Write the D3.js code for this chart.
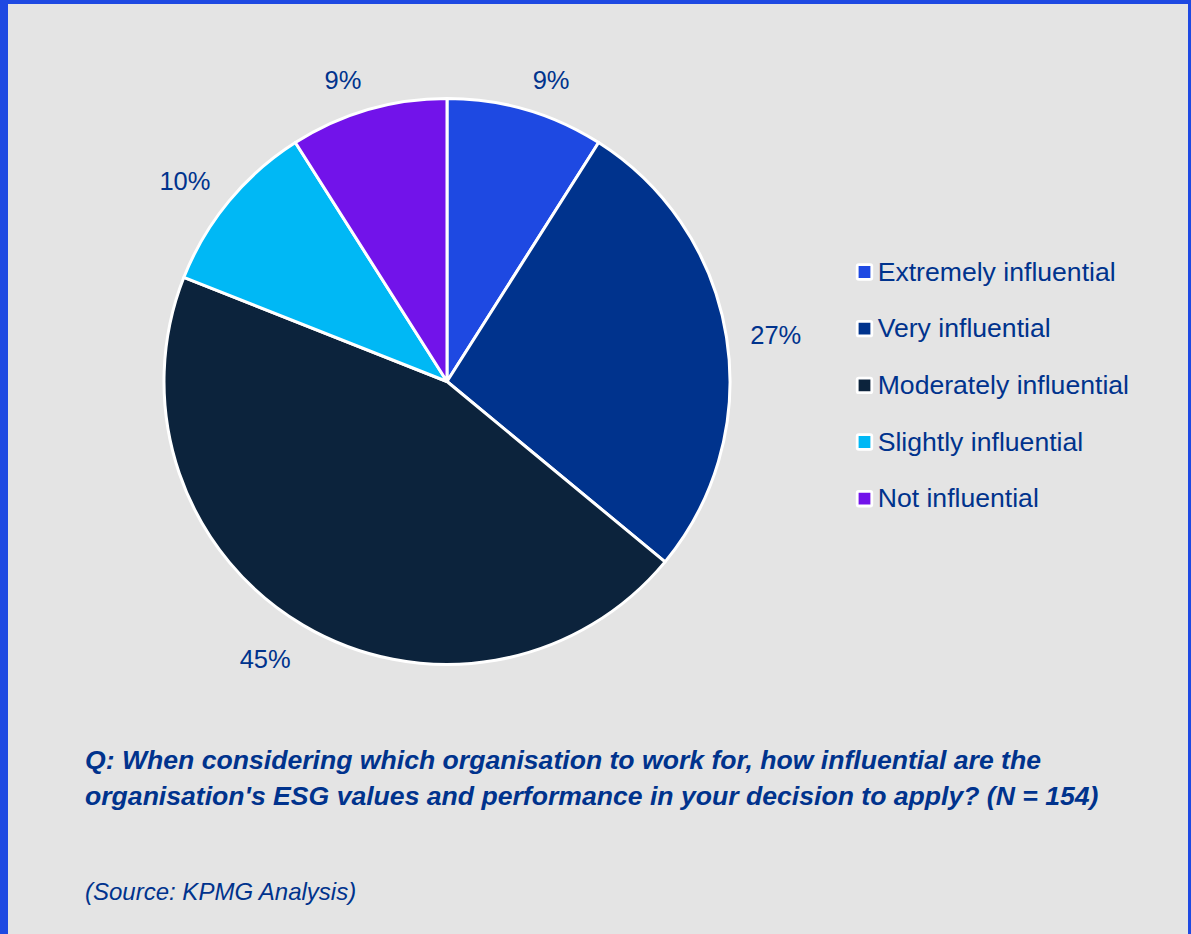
<!DOCTYPE html>
<html>
<head>
<meta charset="utf-8">
<script src="https://cdn.jsdelivr.net/npm/d3@7"></script>
<style>
  html, body { margin: 0; padding: 0; background: #e4e4e4; }
  svg { display: block; font-family: Arial, "Liberation Sans", sans-serif; }
</style>
</head>
<body>
<svg id="chart" width="1191" height="934"></svg>
<script>
// Survey answers (share of respondents, %)
const categories = ["Extremely influential", "Very influential", "Moderately influential", "Slightly influential", "Not influential"];
const values = [9, 27, 45, 10, 9];
const colors = ["#1e49e2", "#00338d", "#0c233c", "#00b8f5", "#7213ea"];
const questionLines = [
  "Q: When considering which organisation to work for, how influential are the",
  "organisation's ESG values and performance in your decision to apply? (N = 154)"
];
const sourceText = "(Source: KPMG Analysis)";

const W = 1191, H = 934;
const textColor = "#00338d";
const svg = d3.select("#chart");

// background and frame
svg.append("rect").attr("width", W).attr("height", H).attr("fill", "#e4e4e4");
svg.append("rect").attr("x", 0).attr("y", 0).attr("width", W).attr("height", 4).attr("fill", "#1e49e2");
svg.append("rect").attr("x", 0).attr("y", 0).attr("width", 8).attr("height", H).attr("fill", "#1e49e2");
svg.append("rect").attr("x", W - 3).attr("y", 0).attr("width", 3).attr("height", H).attr("fill", "#1e49e2");

// pie
const cx = 447, cy = 381.5, radius = 283;
const color = d3.scaleOrdinal().domain(categories).range(colors);
const pie = d3.pie().sort(null).value(d => d.value);
const data = categories.map((c, i) => ({ name: c, value: values[i] }));
const arcs = pie(data);
const arc = d3.arc().innerRadius(0).outerRadius(radius);

const g = svg.append("g").attr("transform", `translate(${cx},${cy})`);
g.selectAll("path.slice")
  .data(arcs)
  .join("path")
  .attr("class", "slice")
  .attr("d", arc)
  .attr("fill", d => color(d.data.name))
  .attr("stroke", "#ffffff")
  .attr("stroke-width", 3)
  .attr("stroke-linejoin", "round");

// outside-end value labels: the label box sits just beyond the rim on the mid-angle ray
const labelR = 307;
const clamp = v => Math.max(-1, Math.min(1, v));
const labels = g.selectAll("text.val")
  .data(arcs)
  .join("text")
  .attr("class", "val")
  .attr("font-size", 25.5)
  .attr("fill", textColor)
  .attr("text-anchor", "middle")
  .text(d => d3.format(".0f")(d.data.value) + "%");

labels.each(function(d) {
  const a = (d.startAngle + d.endAngle) / 2;
  const bb = this.getBBox();
  const hw = bb.width / 2, hh = 10.3;
  const ax = labelR * Math.sin(a), ay = -labelR * Math.cos(a);
  const x = ax + hw * clamp(5 * Math.sin(a));
  const y = ay - hh * clamp(1.2 * Math.cos(a));
  d3.select(this).attr("x", x).attr("y", y + hh * 0.9 + 3);
});

// legend
const legend = svg.append("g").attr("transform", "translate(864.5, 272)");
const item = legend.selectAll("g.item")
  .data(categories)
  .join("g")
  .attr("class", "item")
  .attr("transform", (d, i) => `translate(0, ${i * 56.67})`);
item.append("rect")
  .attr("x", -7.3).attr("y", -7.3)
  .attr("width", 14.6).attr("height", 14.6)
  .attr("rx", 1.5)
  .attr("fill", d => color(d))
  .attr("stroke", "#ffffff")
  .attr("stroke-width", 2.8);
item.append("text")
  .attr("x", 13.2)
  .attr("y", 8.8)
  .attr("font-size", 26.6)
  .attr("fill", textColor)
  .text(d => d);

// question and source
svg.append("g").selectAll("text")
  .data(questionLines)
  .join("text")
  .attr("x", 85)
  .attr("y", (d, i) => 768.5 + i * 36)
  .attr("font-size", 26.6)
  .attr("font-weight", "bold")
  .attr("font-style", "italic")
  .attr("fill", textColor)
  .text(d => d);

svg.append("text")
  .attr("x", 85)
  .attr("y", 899.5)
  .attr("font-size", 24)
  .attr("font-style", "italic")
  .attr("fill", textColor)
  .text(sourceText);
</script>
</body>
</html>
